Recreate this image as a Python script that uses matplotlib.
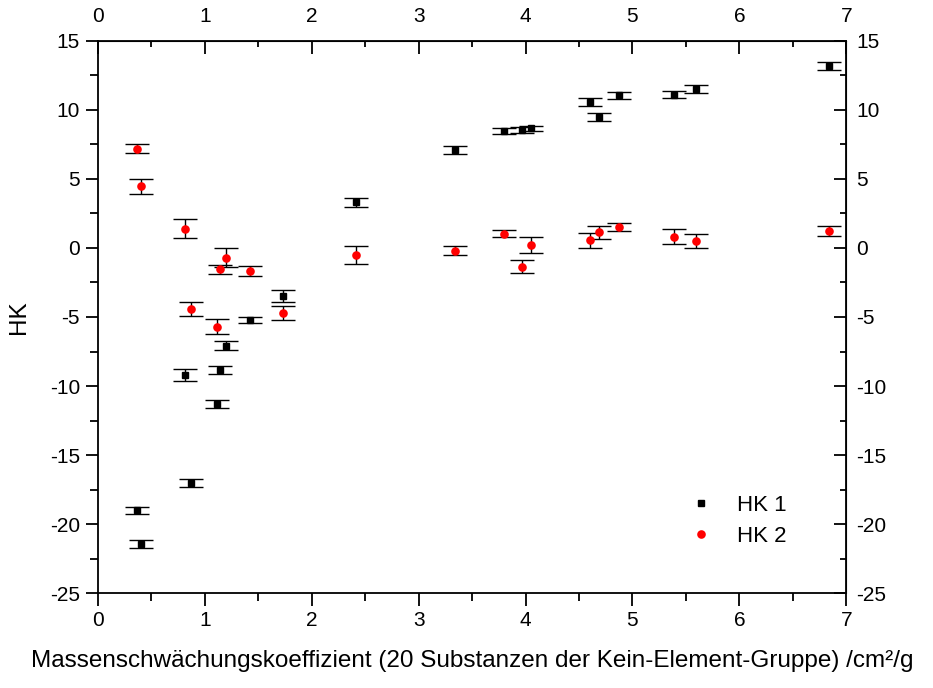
import matplotlib
matplotlib.use('Agg')
import matplotlib.pyplot as plt
import matplotlib.ticker as ticker
from matplotlib.lines import Line2D

plt.rcParams['font.family'] = ['Liberation Sans', 'DejaVu Sans']

# mass attenuation coefficients of the 20 substances, cm^2/g
mu = [0.362, 0.40, 0.811, 0.868, 1.116, 1.141, 1.195, 1.425, 1.734, 2.417,
      3.344, 3.80, 3.97, 4.05, 4.60, 4.686, 4.876, 5.393, 5.59, 6.838]

hk1 = [-19.0, -21.45, -9.21, -17.03, -11.29, -8.83, -7.07, -5.23, -3.47, 3.32,
       7.10, 8.48, 8.53, 8.67, 10.56, 9.49, 11.06, 11.11, 11.50, 13.21]
hk1_err = [0.25, 0.28, 0.43, 0.30, 0.29, 0.30, 0.31, 0.24, 0.43, 0.33,
           0.30, 0.19, 0.20, 0.19, 0.30, 0.28, 0.24, 0.27, 0.28, 0.28]

hk2 = [7.18, 4.47, 1.41, -4.41, -5.69, -1.54, -0.69, -1.66, -4.72, -0.52,
       -0.19, 1.02, -1.35, 0.22, 0.56, 1.14, 1.53, 0.83, 0.51, 1.22]
hk2_err = [0.33, 0.53, 0.68, 0.53, 0.56, 0.31, 0.71, 0.39, 0.49, 0.63,
           0.31, 0.25, 0.45, 0.60, 0.54, 0.47, 0.31, 0.51, 0.53, 0.37]

x_ticks = [0, 1, 2, 3, 4, 5, 6, 7]
x_minor = [0.5, 1.5, 2.5, 3.5, 4.5, 5.5, 6.5]
y_ticks = [-25, -20, -15, -10, -5, 0, 5, 10, 15]
y_minor = [-22.5, -17.5, -12.5, -7.5, -2.5, 2.5, 7.5, 12.5]

fig = plt.figure(figsize=(9.33, 6.88), dpi=100)
ax = fig.add_axes([0.105, 0.138, 0.802, 0.8025])

# error bars first (black for both series), markers on top
ebkw = dict(fmt='none', ecolor='black', elinewidth=1.0, capsize=8.4,
            capthick=1.0, zorder=2)
ax.errorbar(mu, hk1, yerr=hk1_err, **ebkw)
ax.errorbar(mu, hk2, yerr=hk2_err, **ebkw)
ax.plot(mu, hk1, linestyle='none', marker='s', markersize=4.3,
        color='black', zorder=3)
ax.plot(mu, hk2, linestyle='none', marker='o', markersize=6.2,
        color='red', markeredgewidth=0, zorder=3)

ax.set_xlim(0, 7)
ax.set_ylim(-25, 15)

for s in ax.spines.values():
    s.set_linewidth(1.3)

# mirrored axes on top and right, ticks pointing inward
top = ax.secondary_xaxis('top')
right = ax.secondary_yaxis('right')

fmt = ticker.FuncFormatter(lambda v, p: f'{v:g}')
for a, major, minor in ((ax.xaxis, x_ticks, x_minor), (ax.yaxis, y_ticks, y_minor),
                        (top.xaxis, x_ticks, x_minor), (right.yaxis, y_ticks, y_minor)):
    a.set_major_locator(ticker.FixedLocator(major))
    a.set_minor_locator(ticker.FixedLocator(minor))
    a.set_major_formatter(fmt)

ax.tick_params(which='major', direction='out', length=9, width=1.3,
               labelsize=15, pad=4)
ax.tick_params(which='minor', direction='out', length=5.5, width=1.3)
top.tick_params(which='major', direction='in', length=9, width=1.3,
                labelsize=15, pad=11)
top.tick_params(which='minor', direction='in', length=4.5, width=1.3)
right.tick_params(which='major', direction='in', length=9, width=1.3,
                  labelsize=15, pad=7)
right.tick_params(which='minor', direction='in', length=4.5, width=1.3)

ax.set_xlabel('Massenschwächungskoeffizient (20 Substanzen der Kein-Element-Gruppe) /cm²/g',
              fontsize=17.5, labelpad=14)
ax.set_ylabel('HK', fontsize=17.5, labelpad=14)

handles = [Line2D([], [], linestyle='none', marker='s', markersize=4.3, color='black'),
           Line2D([], [], linestyle='none', marker='o', markersize=6.2, color='red',
                  markeredgewidth=0)]
ax.legend(handles, ['HK 1', 'HK 2'], loc='lower right', bbox_to_anchor=(0.947, 0.047),
          frameon=False, fontsize=16, handlelength=1.0, handletextpad=1.1,
          labelspacing=0.45)

fig.savefig('out.png', dpi=100)
